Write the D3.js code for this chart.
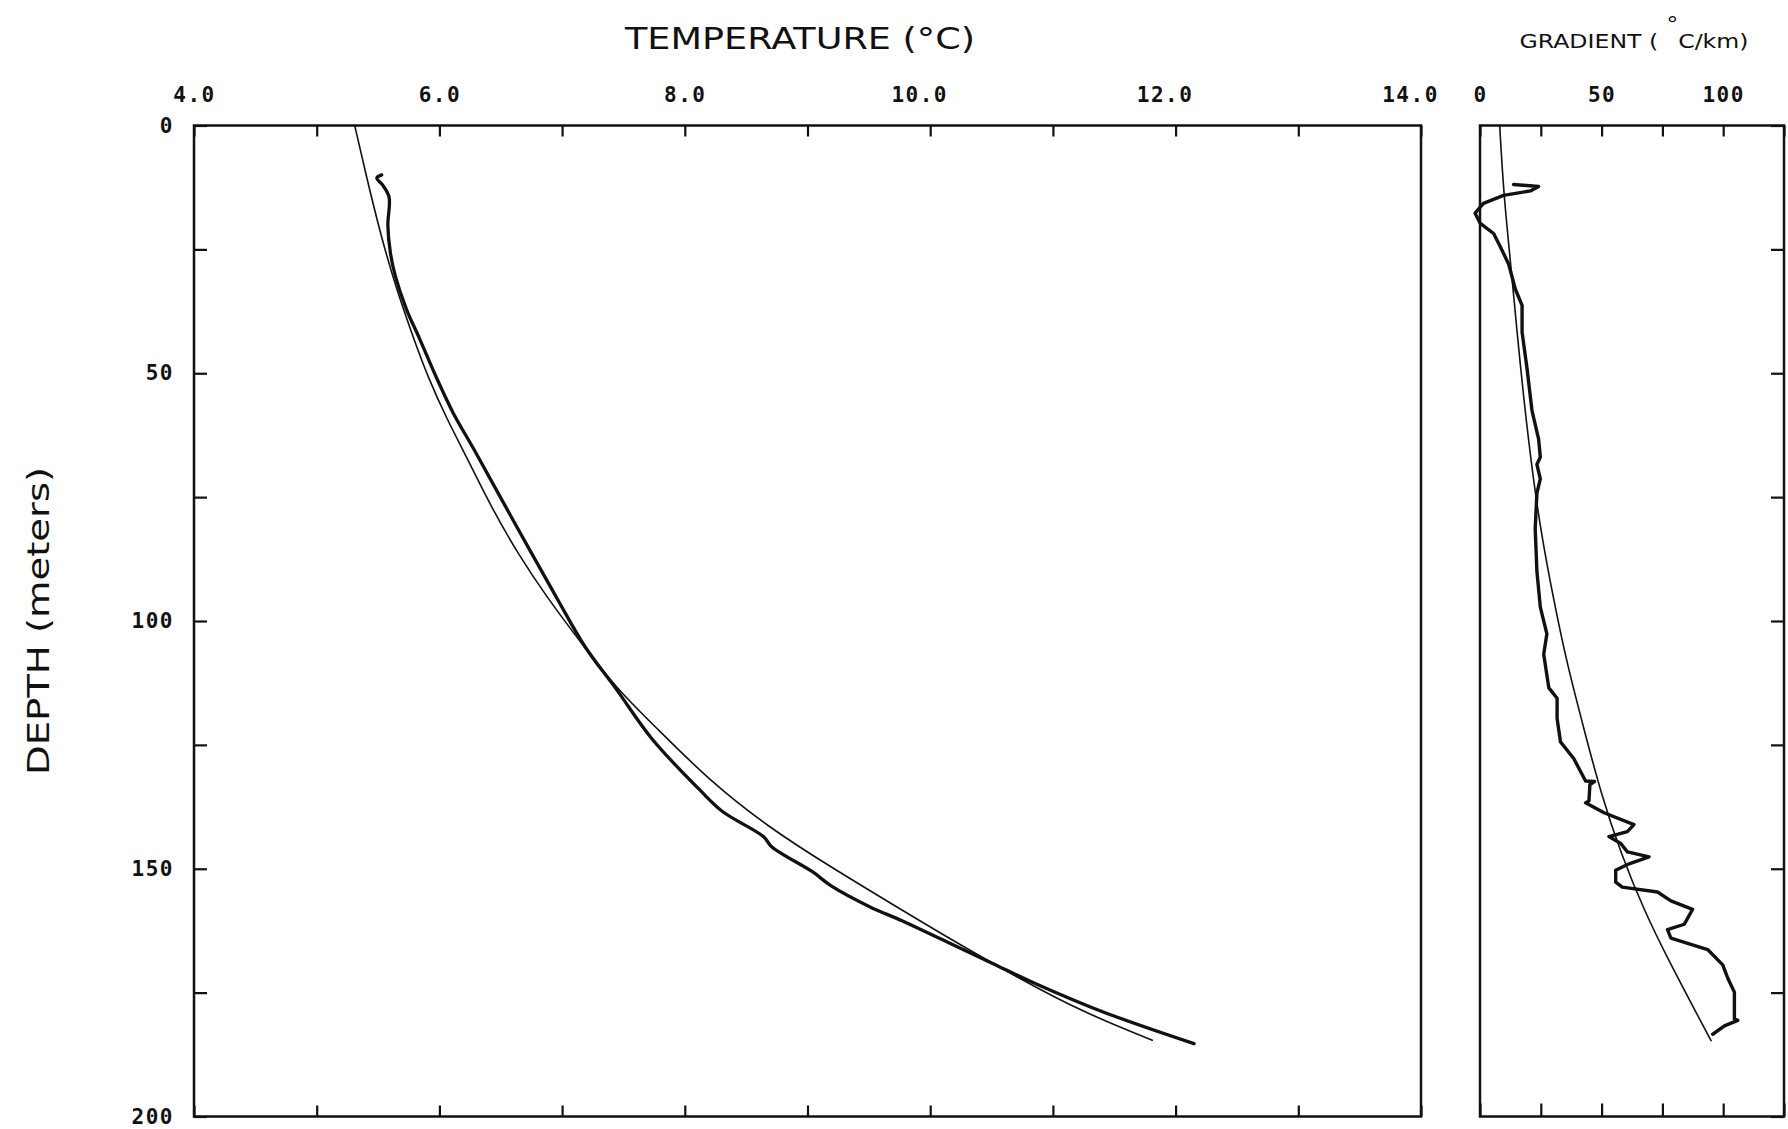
<!DOCTYPE html>
<html>
<head>
<meta charset="utf-8">
<script src="https://cdn.jsdelivr.net/npm/d3@7"></script>
<style>
  body { margin: 0; background: #fff; }
  svg { display: block; }
  .lbl { font-family: "DejaVu Sans Mono", monospace; font-weight: bold; font-size: 21px; fill: #111; letter-spacing: 1.5px; }
  .ttl { font-family: "DejaVu Sans", sans-serif; font-size: 31px; fill: #111; }
  .sub { font-family: "DejaVu Sans", sans-serif; font-size: 20px; fill: #111; }
</style>
</head>
<body>
<svg id="chart" width="1788" height="1129"></svg>
<script>
// tick positions and labels
var tempTicks = [4, 5, 6, 7, 8, 9, 10, 11, 12, 13, 14];
var tempLabels = [4, 6, 8, 10, 12, 14];
var depthTicks = [0, 25, 50, 75, 100, 125, 150, 175, 200];
var depthLabels = [0, 50, 100, 150, 200];
var gradTicks = [0, 25, 50, 75, 100, 125];
var gradLabels = [0, 50, 100];

// [depth m, temperature C] - measured log (thick)
var tempMeasured = [
  [9.97, 5.53], [10.6, 5.49], [12.1, 5.54], [14.5, 5.59], [20.2, 5.58], [25.6, 5.60],
  [30.3, 5.64], [37, 5.73], [43.1, 5.84], [51.1, 5.98], [57.9, 6.11], [65.3, 6.28],
  [74.7, 6.49], [85.4, 6.73], [95.5, 6.96], [105.3, 7.19], [113.7, 7.44], [123.7, 7.73],
  [134.3, 8.13], [138.5, 8.31], [143.5, 8.64], [145.6, 8.71], [150.6, 9.04], [153.4, 9.19],
  [157.7, 9.51], [160.5, 9.77], [164.7, 10.13], [169, 10.50], [173.2, 10.86], [178.9, 11.41],
  [185.3, 12.15]
];
// [depth m, temperature C] - fitted curve (thin)
var tempFit = [
  [0, 5.31], [9.8, 5.40], [22.9, 5.53], [33, 5.65], [43, 5.79], [51, 5.91], [59.2, 6.06],
  [67.3, 6.23], [77.4, 6.43], [86.8, 6.65], [95, 6.87], [104.6, 7.16], [113.8, 7.45],
  [121.6, 7.77], [132.2, 8.20], [141.4, 8.67], [149.2, 9.16], [157, 9.68], [164, 10.15],
  [171.8, 10.70], [178.9, 11.24], [184.6, 11.81]
];
// [depth m, gradient C/km] - measured (thick)
var gradMeasured = [
  [11.9, 13.8], [12.3, 24.1], [13.2, 20.7], [14.1, 9.7], [15.7, 1.4], [17.7, -2], [19.7, 0],
  [21.8, 5.6], [24.4, 8.3], [28, 11.8], [33, 14.5], [36.3, 17.3], [41.7, 17.3], [48.9, 19.3],
  [57.6, 21.4], [63.3, 24.1], [66.9, 24.8], [68.4, 23.4], [71.3, 24.8], [74.2, 23.4],
  [81.4, 22.7], [90, 23.4], [97.2, 24.8], [102.6, 27.5], [106.7, 26.2], [113.5, 28.3],
  [115.6, 31.7], [119.7, 31.7], [124.4, 33.1], [127.8, 38.6], [132.3, 43.4], [132.4, 47.1],
  [133, 45.2], [136.3, 44.8], [136.7, 43.4], [138.7, 51], [141.1, 63.3], [142.5, 60.6],
  [143.5, 53], [144.9, 57.9], [146.6, 60.6], [147.6, 69.5], [149, 61.3], [150.3, 55.8],
  [152.7, 55.8], [153.7, 58.5], [154.7, 73], [156.5, 78.5], [158.2, 87.4], [161.2, 84],
  [162.3, 77.1], [164, 78.5], [166.3, 93.6], [169.4, 99.8], [172.1, 101.9], [174.9, 104.6],
  [180.3, 104.6], [180.6, 106], [181.7, 100.5], [183.4, 95.7]
];
// [depth m, gradient C/km] - fitted (thin)
var gradFit = [
  [0, 8.1], [13.6, 9.7], [27.3, 12.5], [48.9, 16.6], [66.9, 20.7], [81.4, 24.8], [95.8, 30.3],
  [108.7, 35.8], [121.7, 42.7], [134.6, 49.6], [146.9, 57.9], [158.5, 67.5], [169.4, 78.5],
  [178.3, 88.1], [184.7, 95]
];

var svg = d3.select('#chart');
var plotTop = 125.5, plotBottom = 1116.5;

// scales
var y = d3.scaleLinear().domain([0, 200]).range([plotTop, plotBottom]);
var xT = d3.scaleLinear().domain([4, 14]).range([194, 1421]);
var xG = d3.scaleLinear().domain([0, 125]).range([1480, 1784]);

function frame(x) {
  svg.append('rect')
    .attr('x', x.range()[0]).attr('y', plotTop)
    .attr('width', x.range()[1] - x.range()[0]).attr('height', plotBottom - plotTop)
    .attr('fill', 'none').attr('stroke', '#111').attr('stroke-width', 2.5);
}

function ticks(g) {
  g.select('.domain').remove();
  g.selectAll('.tick line').attr('stroke', '#111').attr('stroke-width', 2.2);
  g.selectAll('.tick text').remove();
}

// left panel: temperature
frame(xT);
svg.append('g').attr('transform', 'translate(0,' + plotTop + ')')
  .call(d3.axisBottom(xT).tickValues(tempTicks).tickSize(11)).call(ticks);
svg.append('g').attr('transform', 'translate(0,' + plotBottom + ')')
  .call(d3.axisTop(xT).tickValues(tempTicks).tickSize(11)).call(ticks);
svg.append('g').attr('transform', 'translate(' + xT.range()[0] + ',0)')
  .call(d3.axisRight(y).tickValues(depthTicks).tickSize(13)).call(ticks);

var topLab = svg.append('g').attr('transform', 'translate(0,' + plotTop + ')')
  .call(d3.axisTop(xT).tickValues(tempLabels).tickSize(0).tickPadding(24)
    .tickFormat(d3.format('.1f')));
topLab.select('.domain').remove();
topLab.selectAll('text').attr('class', 'lbl').attr('font-size', null).attr('font-family', null)
  .attr('dx', function(d) { return d >= 10 ? -11 : 0; });

var leftLab = svg.append('g').attr('transform', 'translate(' + xT.range()[0] + ',0)')
  .call(d3.axisLeft(y).tickValues(depthLabels).tickSize(0).tickPadding(20));
leftLab.select('.domain').remove();
leftLab.selectAll('text').attr('class', 'lbl').attr('font-size', null).attr('font-family', null);

// right panel: gradient
frame(xG);
svg.append('g').attr('transform', 'translate(0,' + plotTop + ')')
  .call(d3.axisBottom(xG).tickValues(gradTicks).tickSize(11)).call(ticks);
svg.append('g').attr('transform', 'translate(0,' + plotBottom + ')')
  .call(d3.axisTop(xG).tickValues(gradTicks).tickSize(13)).call(ticks);
svg.append('g').attr('transform', 'translate(' + xG.range()[1] + ',0)')
  .call(d3.axisLeft(y).tickValues(depthTicks).tickSize(13)).call(ticks);

var gradLab = svg.append('g').attr('transform', 'translate(0,' + plotTop + ')')
  .call(d3.axisTop(xG).tickValues(gradLabels).tickSize(0).tickPadding(24));
gradLab.select('.domain').remove();
gradLab.selectAll('text').attr('class', 'lbl').attr('font-size', null).attr('font-family', null);

// curves
function curve(data, x, w, c) {
  svg.append('path').datum(data)
    .attr('fill', 'none').attr('stroke', '#111').attr('stroke-width', w)
    .attr('stroke-linejoin', 'round').attr('stroke-linecap', 'round')
    .attr('d', d3.line().x(function(d) { return x(d[1]); }).y(function(d) { return y(d[0]); }).curve(c));
}
curve(tempFit, xT, 1.6, d3.curveBasis);
curve(tempMeasured, xT, 3.3, d3.curveCatmullRom);
curve(gradFit, xG, 1.6, d3.curveBasis);
curve(gradMeasured, xG, 3.4, d3.curveLinear);

// titles
var t1 = svg.append('text').attr('class', 'ttl').attr('x', 800).attr('y', 49)
  .attr('text-anchor', 'middle').attr('textLength', 350).attr('lengthAdjust', 'spacingAndGlyphs');
t1.append('tspan').text('TEMPERATURE (');
t1.append('tspan').text('°');
t1.append('tspan').text('C)');

var t2 = svg.append('text').attr('class', 'sub').attr('x', 1634).attr('y', 48)
  .attr('text-anchor', 'middle').attr('textLength', 229).attr('lengthAdjust', 'spacingAndGlyphs');
t2.append('tspan').text('GRADIENT (');
t2.append('tspan').attr('dy', -17).attr('dx', 7).text('°');
t2.append('tspan').attr('dy', 17).text('C/km)');

svg.append('text').attr('class', 'ttl')
  .attr('transform', 'translate(49,621) rotate(-90)')
  .attr('text-anchor', 'middle').attr('textLength', 308).attr('lengthAdjust', 'spacingAndGlyphs')
  .text('DEPTH (meters)');
</script>
</body>
</html>
